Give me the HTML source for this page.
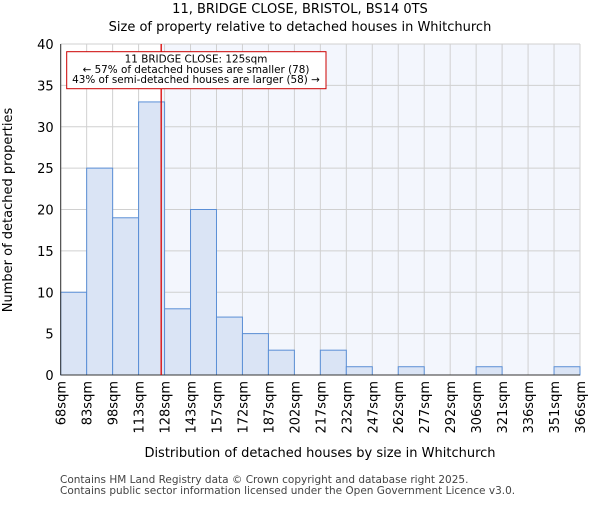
<!DOCTYPE html>
<html><head><meta charset="utf-8"><style>body{margin:0;background:#fff}svg{font-family:"DejaVu Sans","Liberation Sans",sans-serif}</style></head>
<body>
<svg id="chart" width="600" height="500" xmlns="http://www.w3.org/2000/svg">
<text x="300" y="13" text-anchor="middle" font-size="13">11, BRIDGE CLOSE, BRISTOL, BS14 0TS</text>
<text x="300" y="31" text-anchor="middle" font-size="13">Size of property relative to detached houses in Whitchurch</text>
<g id="plot"></g>
<text x="320" y="457" text-anchor="middle" font-size="13">Distribution of detached houses by size in Whitchurch</text>
<text transform="translate(12,210) rotate(-90)" text-anchor="middle" font-size="13">Number of detached properties</text>
<text x="60" y="483" font-size="10.5" fill="#444">Contains HM Land Registry data © Crown copyright and database right 2025.</text>
<text x="60" y="494" font-size="10.5" fill="#444">Contains public sector information licensed under the Open Government Licence v3.0.</text>
</svg>
<script>
const binLabels=["68sqm","83sqm","98sqm","113sqm","128sqm","143sqm","157sqm","172sqm","187sqm","202sqm","217sqm","232sqm","247sqm","262sqm","277sqm","292sqm","306sqm","321sqm","336sqm","351sqm","366sqm"];
const counts=[10,25,19,33,8,20,7,5,3,0,3,1,0,1,0,0,1,0,0,1];
const yTicks=[0,5,10,15,20,25,30,35,40];
const propertyBin=3.87;
const NS="http://www.w3.org/2000/svg";
const L=60.7,R=580,T=44,B=375,yMax=40;
const bw=(R-L)/counts.length;
const x=i=>L+i*bw;
const y=v=>B-(B-T)*v/yMax;
const g=document.getElementById('plot');
function mk(t,a,p){const e=document.createElementNS(NS,t);for(const k in a)e.setAttribute(k,a[k]);(p||g).appendChild(e);return e;}
const rx=x(propertyBin);
let e=mk('rect',{x:rx,y:T,width:R-rx,height:B-T,fill:'#f3f6fd'});


yTicks.forEach(v=>{let l=mk('line',{x1:L,x2:R,y1:y(v),y2:y(v),stroke:'#d0d0d0','stroke-width':1});


let t=mk('text',{x:L-7,y:y(v)+5,'text-anchor':'end','font-size':13});t.textContent=v;

});
binLabels.forEach((s,i)=>{let l=mk('line',{x1:x(i),x2:x(i),y1:T,y2:B,stroke:'#d0d0d0','stroke-width':1});


let t=mk('text',{transform:`translate(${x(i)+5},${B+6}) rotate(-90)`,'text-anchor':'end','font-size':13});t.textContent=s;

});
counts.forEach((c,i)=>{if(c<=0)return;let r=mk('rect',{x:x(i),y:y(c),width:bw,height:B-y(c),fill:'#dae4f5',stroke:'#5b8fd6','stroke-width':1});

});
e=mk('line',{x1:L,x2:L,y1:T,y2:B,stroke:'#333'});


e=mk('line',{x1:L,x2:R,y1:B,y2:B,stroke:'#333'});


e=mk('line',{x1:rx,x2:rx,y1:T,y2:B,stroke:'#dd0000','stroke-width':1.3});


const box=mk('g',{});


mk('rect',{x:66.7,y:51.7,width:259.3,height:37,fill:'#fff',stroke:'#cc0000','stroke-width':1},box);
["11 BRIDGE CLOSE: 125sqm","← 57% of detached houses are smaller (78)","43% of semi-detached houses are larger (58) →"].forEach((s,i)=>{let t=mk('text',{x:196,y:62.5+i*10.3,'text-anchor':'middle','font-size':10.4},box);t.textContent=s;

});
</script>
</body></html>
